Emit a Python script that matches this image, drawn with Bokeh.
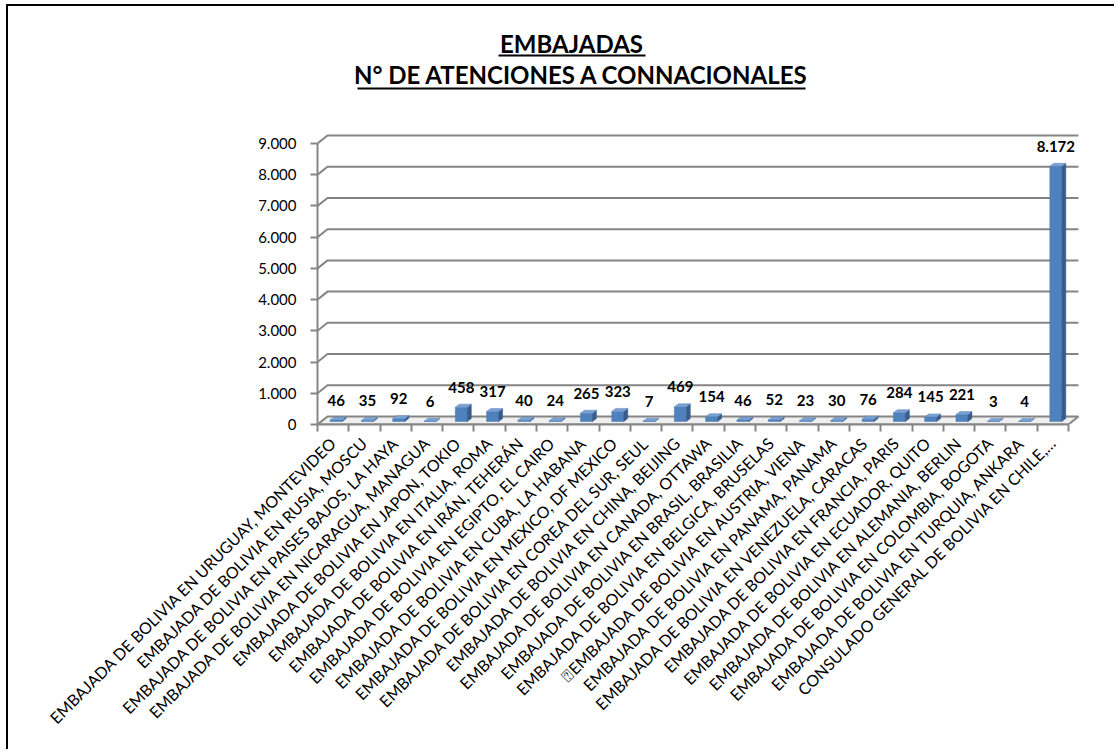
import math
from bokeh.plotting import figure
from bokeh.models import FixedTicker, Range1d
from bokeh.core.properties import value
from bokeh.embed import file_html
from bokeh.resources import INLINE

# ---------------- data ----------------
categories = [
    "EMBAJADA DE BOLIVIA EN URUGUAY, MONTEVIDEO",
    "EMBAJADA DE BOLIVIA EN RUSIA, MOSCU",
    "EMBAJADA DE BOLIVIA EN PAISES BAJOS, LA HAYA",
    "EMBAJADA DE BOLIVIA EN NICARAGUA, MANAGUA",
    "EMBAJADA DE BOLIVIA EN JAPON, TOKIO",
    "EMBAJADA DE BOLIVIA EN ITALIA, ROMA",
    "EMBAJADA DE BOLIVIA EN IRÁN, TEHERÁN",
    "EMBAJADA DE BOLIVIA EN EGIPTO, EL CAIRO",
    "EMBAJADA DE BOLIVIA EN CUBA, LA HABANA",
    "EMBAJADA DE BOLIVIA EN MEXICO, DF MEXICO",
    "EMBAJADA DE BOLIVIA EN COREA DEL SUR, SEUL",
    "EMBAJADA DE BOLIVIA EN CHINA, BEIJING",
    "EMBAJADA DE BOLIVIA EN CANADA, OTTAWA",
    "EMBAJADA DE BOLIVIA EN BRASIL, BRASILIA",
    "EMBAJADA DE BOLIVIA EN BELGICA, BRUSELAS",
    "\u2370EMBAJADA DE BOLIVIA EN AUSTRIA, VIENA",
    "EMBAJADA DE BOLIVIA EN PANAMA, PANAMA",
    "EMBAJADA DE BOLIVIA EN VENEZUELA, CARACAS",
    "EMBAJADA DE BOLIVIA EN FRANCIA, PARIS",
    "EMBAJADA DE BOLIVIA EN ECUADOR, QUITO",
    "EMBAJADA DE BOLIVIA EN ALEMANIA, BERLIN",
    "EMBAJADA DE BOLIVIA EN COLOMBIA, BOGOTA",
    "EMBAJADA DE BOLIVIA EN TURQUIA, ANKARA",
    "CONSULADO GENERAL DE BOLIVIA EN CHILE,\u2026",
]
atenciones = [46, 35, 92, 6, 458, 317, 40, 24, 265, 323, 7, 469,
              154, 46, 52, 23, 30, 76, 284, 145, 221, 3, 4, 8172]
y_ticks = [0, 1000, 2000, 3000, 4000, 5000, 6000, 7000, 8000, 9000]
y_tick_labels = ["0", "1.000", "2.000", "3.000", "4.000", "5.000",
                 "6.000", "7.000", "8.000", "9.000"]
title_lines = ["EMBAJADAS", "N\u00b0 DE ATENCIONES A CONNACIONALES"]

# ---------------- layout helpers ----------------
OX, OY = 8, 6            # where the figure's content starts on the page
W, H = 1108, 745
B_L, B_R, B_T, B_B = 309, 26, 0, 327
PX_PER_X = 31.29       # pixels per category
PX_PER_Y = 0.031222    # pixels per unit of value
frame_w = W - B_L - B_R
frame_h = H - B_T - B_B
n = len(categories)
x0 = -0.5
x1 = x0 + frame_w / PX_PER_X
y1 = frame_h / PX_PER_Y


def dx(px):
    return px / PX_PER_X


def dy(px):
    return px / PX_PER_Y


def X(page_x):
    return x0 + (page_x - OX - B_L) / PX_PER_X


def Y(page_y):
    return (OY + B_T + frame_h - page_y) / PX_PER_Y


FONT = "Lato"
GRID = "#858585"
DEPTH_X, DEPTH_Y = dx(10), dy(8)
x_end = n - 0.5

p = figure(width=W, height=H, x_range=Range1d(x0, x1), y_range=Range1d(0, y1),
           output_backend="svg", toolbar_location=None,
           min_border_left=B_L, min_border_right=B_R,
           min_border_top=B_T, min_border_bottom=B_B)
p.outline_line_color = None
p.xgrid.visible = False
p.ygrid.visible = False
p.background_fill_color = "white"
p.border_fill_color = "white"
p.styles = {"margin-left": "6px", "margin-top": "4px",
            "border-left": "2px solid black", "border-top": "2px solid black"}

# floor
p.patch([x0, x0 + DEPTH_X, x_end + DEPTH_X, x_end], [0, DEPTH_Y, DEPTH_Y, 0],
        fill_color="#efefef", line_color=GRID, line_width=2)

# back wall gridlines
gx, gy = [], []
for v in y_ticks[1:]:
    gx.append([x0, x0 + DEPTH_X, x_end + DEPTH_X])
    gy.append([v, v + DEPTH_Y, v + DEPTH_Y])
p.multi_line(gx, gy, line_color=GRID, line_width=2)

# 3D bars
bw = dx(12)
off = dx(3)
base = dy(3)
sx, sy = dx(4), dy(3)
bx = [i + off for i in range(n)]
tops = [base + v for v in atenciones]
side_x, side_y, top_x, top_y = [], [], [], []
for xc, t in zip(bx, tops):
    r = xc + bw / 2
    l = xc - bw / 2
    side_x.append([r, r + sx, r + sx, r])
    side_y.append([base, base + sy, t + sy, t])
    top_x.append([l, l + sx, r + sx, r])
    top_y.append([t, t + sy, t + sy, t])
p.vbar(x=bx, width=bw, bottom=base, top=tops, fill_color="#4F81BD",
       line_color="#4A7AB4", line_width=0.5)
p.patches(side_x, side_y, fill_color="#385D8A", line_color="#385D8A", line_width=0.5)
p.patches(top_x, top_y, fill_color="#7AA1D2", line_color="#5C87BE", line_width=0.5)

# data labels
lbls = [f"{v:,}".replace(",", ".") for v in atenciones]
p.text(x=bx, y=[t + dy(20) for t in tops], text=lbls,
       text_font=value(FONT), text_font_style="bold", text_font_size="15px",
       text_align="center", text_baseline="middle", text_color="black")

# title
title_pos = [(571, 43, 498, 645, 55), (581, 74, 357, 805, 88)]
for line, (cx, cy, ul0, ul1, uly) in zip(title_lines, title_pos):
    p.text(x=[X(cx)], y=[Y(cy)], text=[line], text_font=value(FONT),
           text_font_style="bold", text_font_size="24px",
           text_align="center", text_baseline="middle", text_color="black")
    p.segment(x0=[X(ul0)], y0=[Y(uly)], x1=[X(ul1)], y1=[Y(uly)],
              line_color="black", line_width=2)

# y axis
ya = p.yaxis[0]
ya.ticker = FixedTicker(ticks=y_ticks)
ya.major_label_overrides = dict(zip(y_ticks, y_tick_labels))
ya.bounds = (0, y_ticks[-1])
ya.axis_line_color = GRID
ya.axis_line_width = 2
ya.major_tick_line_color = GRID
ya.major_tick_line_width = 2
ya.major_tick_out = 7
ya.major_tick_in = 0
ya.minor_tick_out = 0
ya.minor_tick_in = 0
ya.major_label_text_font = FONT
ya.major_label_text_font_size = "15px"
ya.major_label_text_color = "black"
ya.major_label_standoff = 14

# x axis
xa = p.xaxis[0]
xa.ticker = FixedTicker(ticks=list(range(n)),
                        minor_ticks=[i - 0.5 for i in range(n + 1)])
xa.major_label_overrides = dict(zip(range(n), categories))
xa.bounds = (-0.5, x_end)
xa.axis_line_color = GRID
xa.axis_line_width = 2
xa.major_tick_out = 0
xa.major_tick_in = 0
xa.minor_tick_out = 7
xa.minor_tick_in = 0
xa.minor_tick_line_color = GRID
xa.minor_tick_line_width = 2
xa.major_label_orientation = math.pi / 4
xa.major_label_text_font = FONT
xa.major_label_text_font_size = "16px"
xa.major_label_text_color = "black"
xa.major_label_standoff = 8

open("out.html", "w").write(file_html(p, INLINE))
